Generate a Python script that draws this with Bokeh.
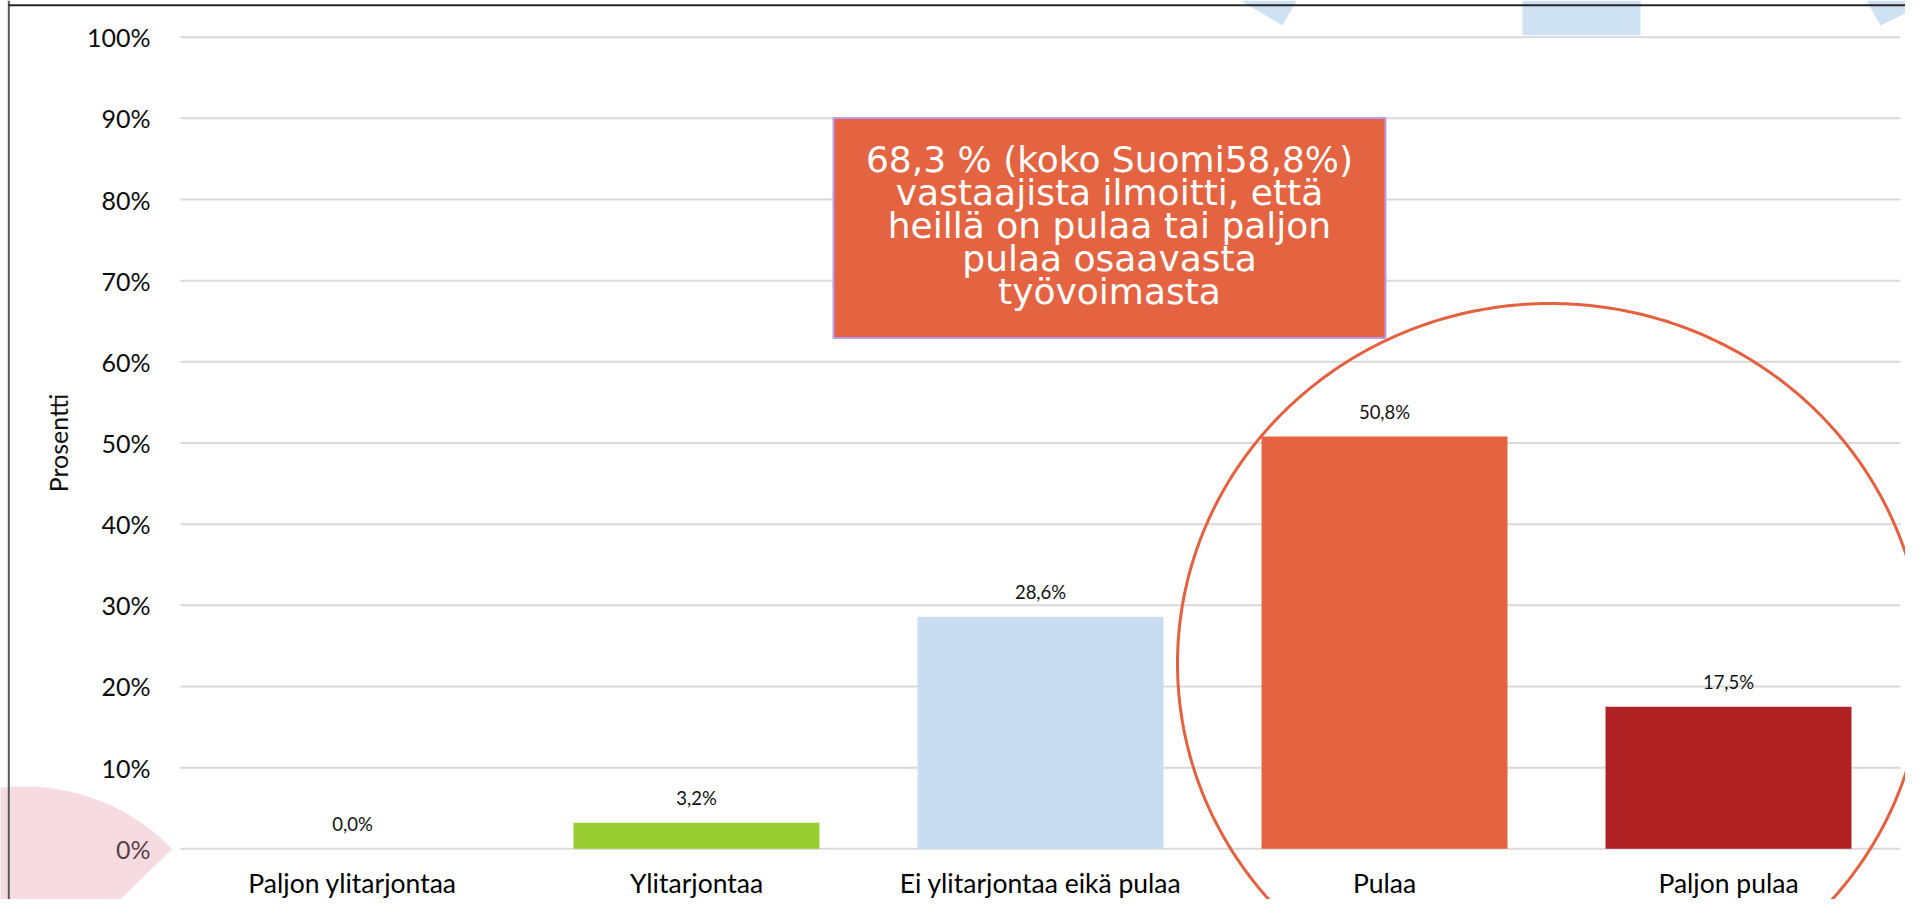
import numpy as np
from bokeh.plotting import figure
from bokeh.models import (Range1d, FixedTicker, PrintfTickFormatter,
                          ColumnDataSource, BoxAnnotation, PolyAnnotation, Label)
from bokeh.core.properties import value
from bokeh.embed import file_html
from bokeh.resources import INLINE

# ---------------- data ----------------
categories = ["Paljon ylitarjontaa", "Ylitarjontaa", "Ei ylitarjontaa eikä pulaa",
              "Pulaa", "Paljon pulaa"]
values = [0.0, 3.2, 28.6, 50.8, 17.5]
bar_colors = ["#4472C4", "#9ACD32", "#C9DDF0", "#E46341", "#B02124"]
y_ticks = [0, 10, 20, 30, 40, 50, 60, 70, 80, 90, 100]
y_axis_label = "Prosentti"
callout_lines = ["68,3 % (koko Suomi58,8%)", "vastaajista ilmoitti, että",
                 "heillä on pulaa tai paljon", "pulaa osaavasta", "työvoimasta"]

# ---------------- canvas helpers (canvas pixel -> frame screen units) ----------------
W, H = 1905, 899


def sx(X):
    return [float(x) for x in X] if isinstance(X, (list, np.ndarray)) else float(X)


def sy(Y):
    return [float(H - y) for y in Y] if isinstance(Y, (list, np.ndarray)) else float(H - Y)


xpos = list(range(len(categories)))
labels = [f"{v:.1f}".replace(".", ",") + "%" for v in values]
src = ColumnDataSource(dict(x=xpos, val=values, color=bar_colors, lbl=labels))

p = figure(x_range=Range1d(-1.0233, 4.5145), y_range=Range1d(-6.247, 104.522),
           width=W, height=H, output_backend="svg", toolbar_location=None,
           min_border_left=0, min_border_right=0, min_border_top=0, min_border_bottom=0)
p.outline_line_color = None
p.background_fill_color = "white"
p.border_fill_color = "white"
p.xgrid.visible = False
p.ygrid.visible = False

# background decorations (slide graphics)
deco_blue = "#CFE2F3"
for xs, ys in [([1522, 1640, 1640, 1522], [0, 0, 34.7, 34.7]),
               ([1240, 1296, 1282], [0, 0, 25]),
               ([1866, 1925, 1925, 1880], [0, 0, 3, 25])]:
    p.add_layout(PolyAnnotation(xs=sx(xs), ys=sy(ys), xs_units="screen", ys_units="screen",
                                fill_color=deco_blue, fill_alpha=1.0, line_color=None))

ang = np.radians(np.linspace(-44.2, -135, 60))
pink_x = list(24 + 206 * np.cos(ang)) + [24]
pink_y = list(992 + 206 * np.sin(ang)) + [992]
p.add_layout(PolyAnnotation(xs=sx(pink_x), ys=sy(pink_y), xs_units="screen", ys_units="screen",
                            fill_color="#E59BA9", fill_alpha=0.35, line_color=None))
p.add_layout(PolyAnnotation(xs=sx([225, 198, 252]), ys=sy([900, 930, 930]),
                            xs_units="screen", ys_units="screen",
                            fill_color="#E59BA9", fill_alpha=0.35, line_color=None))

# horizontal gridlines spanning the category area
p.segment(x0=[xpos[0] - 0.5] * len(y_ticks), x1=[xpos[-1] + 0.5] * len(y_ticks),
          y0=y_ticks, y1=y_ticks, line_color="#D9D9D9", line_width=2)

# bars
p.vbar(x="x", top="val", width=0.715, color="color", line_color=None, source=src)

# data labels
p.text(x="x", y="val", text="lbl", source=src, text_align="center", text_baseline="middle",
       y_offset=-25, text_font=value("Lato"), text_font_size="18.5px", text_color="#111111")

# axes (fixed inside the frame)
p.yaxis.fixed_location = xpos[0] - 0.5
p.yaxis.bounds = (0, 100)
p.yaxis.ticker = FixedTicker(ticks=y_ticks)
p.yaxis.formatter = PrintfTickFormatter(format="%d%%")
p.yaxis.axis_label = y_axis_label
p.xaxis.fixed_location = 0
p.xaxis.ticker = FixedTicker(ticks=xpos)
p.xaxis.major_label_overrides = {i: c for i, c in zip(xpos, categories)}
for ax in (p.xaxis[0], p.yaxis[0]):
    ax.axis_line_color = None
    ax.major_tick_line_color = None
    ax.minor_tick_line_color = None
    ax.major_tick_out = 0
    ax.major_tick_in = 0
    ax.major_label_text_font = "Lato"
    ax.major_label_text_font_size = "25px"
    ax.major_label_text_color = "#0d0d0d"
p.xaxis.major_label_text_font_size = "26.5px"
p.xaxis.major_label_text_color = "#000000"
p.yaxis.major_label_standoff = 30
p.yaxis.axis_label_text_font = "Lato"
p.yaxis.axis_label_text_font_size = "25px"
p.yaxis.axis_label_text_font_style = "normal"
p.yaxis.axis_label_text_color = "#0d0d0d"
p.yaxis.axis_label_standoff = 11
p.xaxis.major_label_standoff = 18

# callout box
p.add_layout(BoxAnnotation(left=sx(833), right=sx(1385), top=sy(117.5), bottom=sy(337.5),
                           left_units="screen", right_units="screen",
                           top_units="screen", bottom_units="screen",
                           fill_color="#E46441", fill_alpha=1.0,
                           line_color="#B89CE8", line_alpha=1.0, line_width=2))
p.add_layout(Label(x=sx(1109), y=sy(225), x_units="screen", y_units="screen",
                   text="\n".join(callout_lines), text_align="center", text_baseline="middle",
                   text_font="'DejaVu Sans ExtraLight', 'DejaVu Sans'", text_font_size="36px",
                   text_color="white", text_line_height=0.80))

# highlight ellipse
t = np.linspace(0, 2 * np.pi, 400)
ell_x = list(1550 + 373 * np.cos(t))
ell_y = list(663 + 360 * np.sin(t))
p.add_layout(PolyAnnotation(xs=sx(ell_x), ys=sy(ell_y), xs_units="screen", ys_units="screen",
                            fill_alpha=0.0, line_color="#E4603F", line_alpha=1.0, line_width=3))

# chart-area border lines
p.add_layout(PolyAnnotation(xs=sx([8.3, 8.3]), ys=sy([0, 930]), xs_units="screen", ys_units="screen",
                            fill_alpha=0.0, line_color="#595959", line_alpha=1.0, line_width=2))
p.add_layout(PolyAnnotation(xs=sx([8, 1925]), ys=sy([4.7, 4.7]), xs_units="screen", ys_units="screen",
                            fill_alpha=0.0, line_color="#262626", line_alpha=1.0, line_width=2))

open("out.html", "w").write(file_html(p, INLINE))
